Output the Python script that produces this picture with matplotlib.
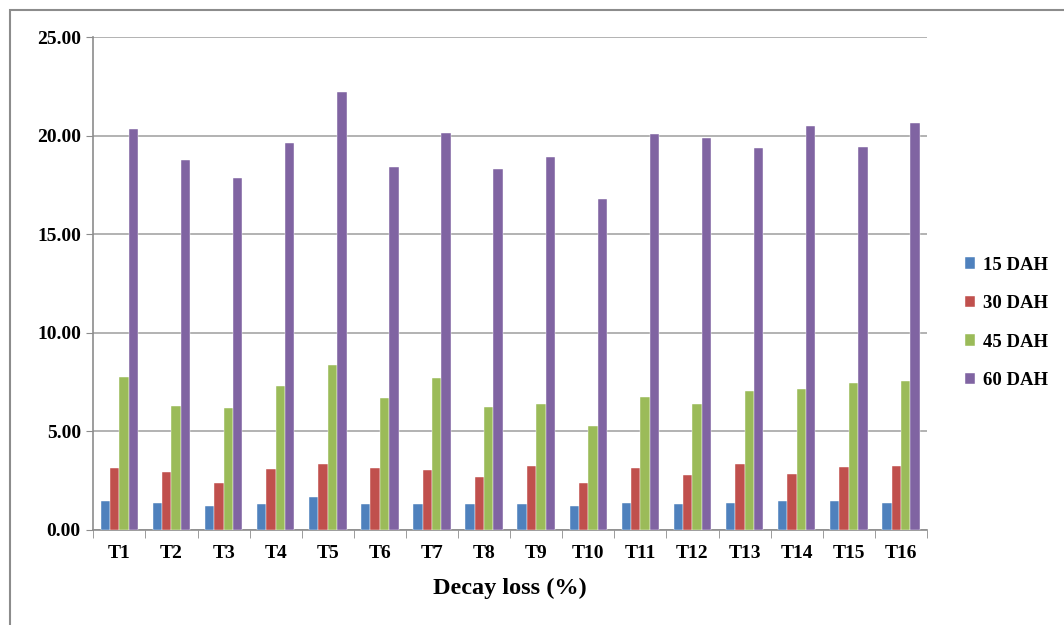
import numpy as np
import matplotlib.pyplot as plt
from matplotlib.patches import Rectangle

# decay loss (%) per treatment at each sampling date
treatments = ['T%d' % i for i in range(1, 17)]
dah15 = [1.47, 1.35, 1.23, 1.30, 1.67, 1.30, 1.30, 1.30, 1.30, 1.23, 1.35, 1.30, 1.35, 1.47, 1.47, 1.35]
dah30 = [3.14, 2.96, 2.37, 3.09, 3.33, 3.14, 3.03, 2.67, 3.26, 2.37, 3.14, 2.79, 3.33, 2.84, 3.21, 3.26]
dah45 = [7.76, 6.30, 6.19, 7.29, 8.35, 6.68, 7.69, 6.25, 6.37, 5.29, 6.73, 6.38, 7.03, 7.15, 7.45, 7.57]
dah60 = [20.32, 18.76, 17.87, 19.61, 22.23, 18.39, 20.15, 18.29, 18.90, 16.78, 20.08, 19.89, 19.35, 20.50, 19.42, 20.62]
series = [('15 DAH', dah15, '#4F81BD'), ('30 DAH', dah30, '#C0504D'),
          ('45 DAH', dah45, '#9BBB59'), ('60 DAH', dah60, '#8064A2')]

plt.rcParams['font.family'] = ['Liberation Serif', 'DejaVu Serif']
plt.rcParams['font.weight'] = 'bold'

fig = plt.figure(figsize=(10.64, 6.25), dpi=100)
ax = fig.add_axes([0.0877, 0.152, 0.7835, 0.7888])

# outer chart frame
fig.patches.append(Rectangle((10 / 1064, -0.1), 1.2, (615 / 625) + 0.1,
                             transform=fig.transFigure, fill=False,
                             edgecolor='#8c8c8c', linewidth=1.5))

x = np.arange(len(treatments))
w = 0.18
for i, (name, vals, col) in enumerate(series):
    ax.bar(x + (i - 1.5) * w, vals, w, color=col, label=name,
           edgecolor='white', linewidth=0.3, zorder=3)

ax.set_xlim(-0.5, len(treatments) - 0.5)
ax.set_ylim(0, 25)
ax.set_yticks(np.arange(0, 26, 5))
ax.set_yticklabels(['%.2f' % v for v in np.arange(0, 26, 5)], fontsize=14, fontweight='bold')
ax.yaxis.grid(True, color='#a6a6a6', linewidth=1.2, zorder=0)

ax.set_xticks(x)
ax.set_xticklabels(treatments, fontsize=14, fontweight='bold')
ax.set_xticks(np.arange(-0.5, len(treatments), 1), minor=True)
ax.tick_params(axis='x', which='major', length=0, pad=11)
ax.tick_params(axis='x', which='minor', length=6, color='#8c8c8c', direction='out')
ax.tick_params(axis='y', length=5, color='#8c8c8c', direction='out', pad=4)

for s in ['top', 'right']:
    ax.spines[s].set_visible(False)
for s in ['left', 'bottom']:
    ax.spines[s].set_color('#8c8c8c')
    ax.spines[s].set_linewidth(1.2)

ax.set_xlabel('Decay loss (%)', fontsize=17.5, fontweight='bold', labelpad=11)

ax.legend(loc='center left', bbox_to_anchor=(1.025, 0.42), frameon=False,
          handlelength=0.55, handleheight=0.55, handletextpad=0.45,
          labelspacing=1.15, prop={'weight': 'bold', 'size': 13.5})

fig.savefig('out.png', dpi=100)
